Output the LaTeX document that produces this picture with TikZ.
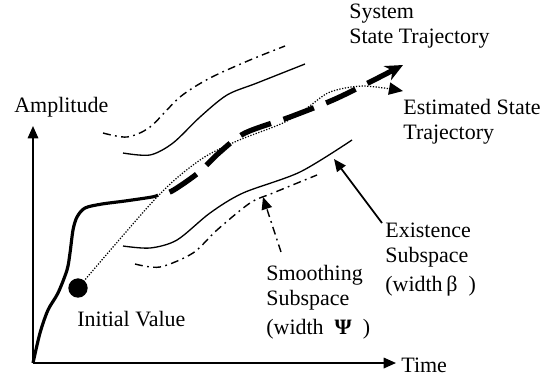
\documentclass[tikz,border=0pt]{standalone}
\usepackage{fontspec}
\setmainfont{Liberation Serif}
\usetikzlibrary{arrows.meta}

\tikzset{
  lbl/.style={inner sep=0pt, align=left, font=\fontsize{12.5}{14.2}\selectfont},
  axis/.style={line width=.9pt, -{Triangle[length=7pt,width=6pt]}},
  bound/.style={line width=.75pt},
  dashdot/.style={line width=.8pt, dash pattern=on 4.5pt off 2.5pt on 1pt off 2.5pt},
  truepath/.style={line width=3pt, dash pattern=on 18.5pt off 7.5pt, dash phase=18.5pt},
  estpath/.style={line width=.7pt, dash pattern=on .7pt off .9pt}
}

\begin{document}
\begin{tikzpicture}[x=.2mm,y=-.2mm]

\useasboundingbox (0,0) rectangle (554,384);

\coordinate (O) at (33,363);
\coordinate (ytip) at (33,126);
\coordinate (xtip) at (396,363);

\draw[axis] (O) -- (ytip);
\draw[axis] (O) -- (xtip);

\node[lbl,anchor=base west] (amp) at (14,112) {Amplitude};
\node[lbl,anchor=base west] (time) at (401,372) {Time};

\draw[bound] plot[smooth] coordinates {(123,153) (150,155) (173,143) (200,117) (227,95) (257,83) (305,64)};
\draw[bound] plot[smooth] coordinates {(123,246) (150,248) (177,240) (210,213) (243,193) (300,172) (352,140)};
\draw[dashdot] plot[smooth] coordinates {(103,133) (127,137) (150,127) (180,97) (210,78) (250,60) (285,46)};
\draw[dashdot] plot[smooth] coordinates {(135,264) (160,267) (193,253) (217,230) (250,203) (273,193) (317,175)};

\node[circle,fill,inner sep=0pt,minimum size=11pt] (init) at (78,288) {};

\draw[line width=1.8pt] plot[smooth] coordinates {(O) (40,333) (48,310) (58,293) (67,270) (70,253) (73,230) (77,217) (85,208) (102,204) (125,201) (152,197) (158,195)};
\draw[truepath,-{Stealth[length=10pt,width=9pt]}] plot[smooth] coordinates {(157,196) (172,191) (198,173) (220,152) (245,133) (290,117) (333,100) (370,82) (403,65)};

\draw[estpath,-{Triangle[length=8pt,width=7pt]}] plot[smooth] coordinates {(init) (157,197) (200,160) (237,141) (283,123) (307,108) (330,92) (363,86) (403,91)};

\node[lbl,anchor=north west] (sys) at (349,4) {System\\State Trajectory};
\node[lbl,anchor=north west] (est) at (403,99) {Estimated State\\Trajectory};
\node[lbl,anchor=north west] (exist) at (385,223) {Existence\\Subspace\\[2pt](width\,β~~)};
\node[lbl,anchor=north west] (smooth) at (266,265) {Smoothing\\Subspace\\[2pt](width~~\textbf{Ψ}~~)};
\node[lbl,anchor=base west] (initlbl) at (77,326) {Initial Value};

\coordinate (existtip) at (334,159);
\coordinate (existfoot) at (382,223);
\draw[line width=1pt,-{Triangle[length=7pt,width=6pt]}] (existfoot) -- (existtip);

\coordinate (smoothtip) at (263,197);
\coordinate (smoothfoot) at (281,252);
\draw[dashdot,-{Triangle[length=7pt,width=6pt]}] (smoothfoot) -- (smoothtip);

\end{tikzpicture}
\end{document}
